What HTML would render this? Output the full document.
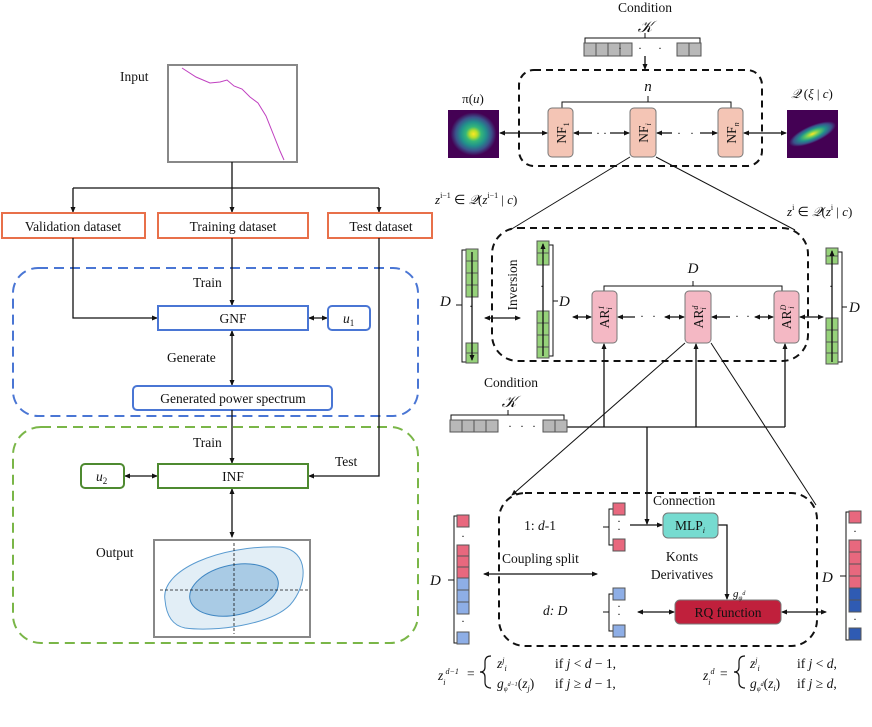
<!DOCTYPE html>
<html><head><meta charset="utf-8"><style>
html,body{margin:0;padding:0;background:#fff}
svg{display:block}
text{font-family:"Liberation Serif",serif;fill:#111}
.i{font-style:italic}
</style></head><body>
<svg width="872" height="727" viewBox="0 0 872 727" xmlns="http://www.w3.org/2000/svg">
<defs>
<marker id="a" markerWidth="6" markerHeight="6" refX="5" refY="3" orient="auto-start-reverse" markerUnits="userSpaceOnUse"><path d="M0,0.5 L6,3 L0,5.5z" fill="#111"/></marker>
<radialGradient id="v1" cx="50%" cy="50%" r="50%"><stop offset="0" stop-color="#fde725"/><stop offset=".15" stop-color="#b5de2b"/><stop offset=".3" stop-color="#35b779"/><stop offset=".5" stop-color="#21918c"/><stop offset=".7" stop-color="#3b528b"/><stop offset=".9" stop-color="#440154"/><stop offset="1" stop-color="#440154"/></radialGradient>
<radialGradient id="v2" cx="50%" cy="50%" r="50%" gradientTransform="translate(0.5 0.5) rotate(-25) scale(1 0.35) translate(-0.5 -0.5)"><stop offset="0" stop-color="#fde725"/><stop offset=".3" stop-color="#5ec962"/><stop offset=".55" stop-color="#21918c"/><stop offset=".8" stop-color="#3b528b"/><stop offset="1" stop-color="#440154"/></radialGradient>
</defs>
<g stroke="#111" stroke-width="1.3" fill="none">
<!-- LEFT -->
<rect x="168" y="65" width="129" height="97" stroke="#888" stroke-width="2"/>
<polyline points="182,68 196,77 210,83 220,82 227,80 234,86 242,89 250,97 258,103 266,116 274,136 280,151 284,160" stroke="#c040c0" stroke-width="1"/>
<line x1="232" y1="162" x2="232" y2="188"/>
<line x1="73" y1="188" x2="379" y2="188"/>
<line x1="73" y1="188" x2="73" y2="212" marker-end="url(#a)"/>
<line x1="232" y1="188" x2="232" y2="212" marker-end="url(#a)"/>
<line x1="379" y1="188" x2="379" y2="212" marker-end="url(#a)"/>
<g stroke="#e8704a" stroke-width="2">
<rect x="2" y="213" width="143" height="25"/>
<rect x="158" y="213" width="150" height="25"/>
<rect x="328" y="213" width="104" height="25"/>
</g>
<rect x="13" y="268" width="405" height="148" rx="25" stroke="#4a76d4" stroke-width="2" stroke-dasharray="10,6"/>
<polyline points="73,238 73,318 157,318" marker-end="url(#a)"/>
<line x1="232" y1="238" x2="232" y2="305" marker-end="url(#a)"/>
<line x1="232" y1="331" x2="232" y2="385" marker-start="url(#a)" marker-end="url(#a)"/>
<line x1="309" y1="318" x2="327" y2="318" marker-start="url(#a)" marker-end="url(#a)"/>
<g stroke="#4a76d4" stroke-width="2">
<rect x="158" y="306" width="150" height="24"/>
<rect x="328" y="306" width="42" height="24" rx="4"/>
<rect x="133" y="386" width="199" height="24" rx="4"/>
</g>
<rect x="13" y="427" width="405" height="216" rx="28" stroke="#7ab648" stroke-width="2" stroke-dasharray="10,6"/>
<line x1="232" y1="410" x2="232" y2="463" marker-end="url(#a)"/>
<polyline points="379,238 379,476 309,476" marker-end="url(#a)"/>
<line x1="125" y1="476" x2="157" y2="476" marker-start="url(#a)" marker-end="url(#a)"/>
<line x1="232" y1="489" x2="232" y2="537" marker-start="url(#a)" marker-end="url(#a)"/>
<g stroke="#4e8a30" stroke-width="2">
<rect x="158" y="464" width="150" height="24"/>
<rect x="81" y="464" width="43" height="24" rx="4"/>
</g>
<rect x="154" y="540" width="156" height="97" stroke="#888" stroke-width="2"/>
<path d="M165,600 C160,570 220,545 280,547 C310,550 308,585 290,605 C270,625 215,632 185,628 C170,625 166,612 165,600z" fill="#e2eef6" stroke="#5a9bd0" stroke-width="1"/>
<ellipse cx="234" cy="590" rx="45" ry="25" transform="rotate(-12 234 590)" fill="#a9cbe5" stroke="#3f86c2" stroke-width="1"/>
<line x1="160" y1="590" x2="308" y2="590" stroke-width="0.8" stroke-dasharray="3,2"/>
<line x1="234" y1="543" x2="234" y2="634" stroke-width="0.8" stroke-dasharray="3,2"/>

<!-- RIGHT TOP -->
<path d="M585,43 V38 H700 V43 M645,38 V33" stroke-width="1"/>
<line x1="645" y1="56" x2="645" y2="69" marker-end="url(#a)"/>
<rect x="519" y="70" width="243" height="96" rx="15" stroke-width="2" stroke-dasharray="7,5"/>
<path d="M562,108 V102 H731 V108 M648,102 V96" stroke-width="1"/>
<line x1="500" y1="133" x2="547" y2="133" marker-start="url(#a)" marker-end="url(#a)"/>
<line x1="574" y1="133" x2="592" y2="133" marker-start="url(#a)"/>
<line x1="610" y1="133" x2="629" y2="133" marker-end="url(#a)"/>
<line x1="657" y1="133" x2="672" y2="133" marker-start="url(#a)"/>
<line x1="700" y1="133" x2="717" y2="133" marker-end="url(#a)"/>
<line x1="744" y1="133" x2="786" y2="133" marker-start="url(#a)" marker-end="url(#a)"/>
<line x1="630" y1="157" x2="510" y2="230" stroke-width="1"/>
<line x1="656" y1="157" x2="795" y2="230" stroke-width="1"/>

<rect x="492" y="228" width="316" height="133" rx="26" stroke-width="2" stroke-dasharray="7,5"/>
<path d="M604,291 V286 H782 V291 M693,286 V281" stroke-width="1"/>
<line x1="485" y1="318" x2="520" y2="318" marker-start="url(#a)" marker-end="url(#a)"/>
<line x1="573" y1="317" x2="591" y2="317" marker-start="url(#a)" marker-end="url(#a)"/>
<line x1="618" y1="317" x2="635" y2="317" marker-start="url(#a)"/>
<line x1="665" y1="317" x2="684" y2="317" marker-start="url(#a)" marker-end="url(#a)"/>
<line x1="712" y1="317" x2="730" y2="317" marker-start="url(#a)"/>
<line x1="755" y1="317" x2="773" y2="317" marker-start="url(#a)" marker-end="url(#a)"/>
<line x1="800" y1="317" x2="823" y2="317" marker-start="url(#a)" marker-end="url(#a)"/>
<path d="M467,250 H462 V362 H467 M462,305 H456" stroke-width="1"/>
<path d="M549,245 H553 V356 H549 M553,301 H558" stroke-width="1"/>
<path d="M838,252 H842 V362 H838 M842,307 H847" stroke-width="1"/>
<path d="M451,420 V415 H564 V420 M508,415 V410" stroke-width="1"/>
<line x1="566" y1="427" x2="785" y2="427"/>
<line x1="604" y1="427" x2="604" y2="344" marker-end="url(#a)"/>
<line x1="696" y1="427" x2="696" y2="344" marker-end="url(#a)"/>
<line x1="785" y1="427" x2="785" y2="344" marker-end="url(#a)"/>
<line x1="647" y1="427" x2="647" y2="524" marker-end="url(#a)"/>
<line x1="685" y1="343" x2="512" y2="495" stroke-width="1" marker-end="url(#a)"/>
<line x1="711" y1="343" x2="816" y2="505" stroke-width="1"/>
<rect x="499" y="493" width="318" height="153" rx="26" stroke-width="2" stroke-dasharray="7,5"/>
<path d="M613,509 H609 V545 H613 M609,527 H603" stroke-width="1"/>
<path d="M613,594 H609 V631 H613 M609,612 H603" stroke-width="1"/>
<line x1="630" y1="525" x2="662" y2="525" marker-end="url(#a)"/>
<polyline points="718,525 727,525 727,599" marker-end="url(#a)"/>
<line x1="638" y1="612" x2="674" y2="612" marker-start="url(#a)" marker-end="url(#a)"/>
<line x1="782" y1="612" x2="826" y2="612" marker-start="url(#a)" marker-end="url(#a)"/>
<line x1="484" y1="574" x2="597" y2="574" marker-start="url(#a)" marker-end="url(#a)"/>
<path d="M457,516 H454 V643 H457 M454,580 H448" stroke-width="1"/>
<path d="M849,512 H846 V640 H849 M846,576 H840" stroke-width="1"/>
<!-- braces -->
<path d="M491,656 Q485,656 485,662 L485,667 Q485,672 480,672 Q485,672 485,677 L485,682 Q485,688 491,688" stroke-width="1.2"/>
<path d="M745,656 Q739,656 739,662 L739,667 Q739,672 734,672 Q739,672 739,677 L739,682 Q739,688 745,688" stroke-width="1.2"/>
</g>

<g stroke="#555" stroke-width="1">
<g fill="#b8b8b8">
<rect x="584" y="43" width="12" height="13"/><rect x="596" y="43" width="12" height="13"/><rect x="608" y="43" width="12" height="13"/><rect x="620" y="43" width="12" height="13"/>
<rect x="677" y="43" width="12" height="13"/><rect x="689" y="43" width="12" height="13"/>
<rect x="450" y="420" width="12" height="12"/><rect x="462" y="420" width="12" height="12"/><rect x="474" y="420" width="12" height="12"/><rect x="486" y="420" width="12" height="12"/>
<rect x="543" y="420" width="12" height="12"/><rect x="555" y="420" width="12" height="12"/>
</g>
<g fill="#96d27a">
<rect x="466" y="249" width="12" height="12"/><rect x="466" y="261" width="12" height="12"/><rect x="466" y="273" width="12" height="12"/><rect x="466" y="285" width="12" height="12"/>
<rect x="466" y="343" width="12" height="10"/><rect x="466" y="353" width="12" height="10"/>
<rect x="537" y="241" width="12" height="12"/><rect x="537" y="253" width="12" height="12"/>
<rect x="537" y="311" width="12" height="12"/><rect x="537" y="323" width="12" height="12"/><rect x="537" y="335" width="12" height="12"/><rect x="537" y="347" width="12" height="11"/>
<rect x="826" y="248" width="12" height="8"/><rect x="826" y="256" width="12" height="8"/>
<rect x="826" y="318" width="12" height="12"/><rect x="826" y="330" width="12" height="12"/><rect x="826" y="342" width="12" height="11"/><rect x="826" y="353" width="12" height="11"/>
</g>
<g fill="#e8687e">
<rect x="613" y="503" width="12" height="12"/><rect x="613" y="539" width="12" height="12"/>
<rect x="457" y="515" width="12" height="12"/><rect x="457" y="545" width="12" height="11"/><rect x="457" y="556" width="12" height="11"/><rect x="457" y="567" width="12" height="11"/>
<rect x="849" y="511" width="12" height="12"/><rect x="849" y="540" width="12" height="12"/><rect x="849" y="552" width="12" height="12"/><rect x="849" y="564" width="12" height="12"/><rect x="849" y="576" width="12" height="12"/>
</g>
<g fill="#8eaee6">
<rect x="613" y="588" width="12" height="12"/><rect x="613" y="625" width="12" height="12"/>
<rect x="457" y="578" width="12" height="12"/><rect x="457" y="590" width="12" height="12"/><rect x="457" y="602" width="12" height="12"/><rect x="457" y="632" width="12" height="12"/>
</g>
<g fill="#2f5bb3">
<rect x="849" y="588" width="12" height="12"/><rect x="849" y="600" width="12" height="12"/><rect x="849" y="628" width="12" height="12"/>
</g>
</g>
<g stroke="#111" stroke-width="1.3">
<line x1="472" y1="252" x2="472" y2="360" marker-end="url(#a)"/>
<line x1="543" y1="356" x2="543" y2="244" marker-end="url(#a)"/>
<line x1="832" y1="362" x2="832" y2="251" marker-end="url(#a)"/>
</g>
<g stroke="#777" stroke-width="1">
<rect x="548" y="108" width="25" height="49" rx="4" fill="#f4c5b5"/>
<rect x="630" y="108" width="26" height="49" rx="4" fill="#f4c5b5"/>
<rect x="718" y="108" width="25" height="49" rx="4" fill="#f4c5b5"/>
<rect x="592" y="291" width="25" height="52" rx="4" fill="#f4b8c4"/>
<rect x="685" y="291" width="26" height="52" rx="4" fill="#f4b8c4"/>
<rect x="774" y="291" width="25" height="52" rx="4" fill="#f4b8c4"/>
<rect x="663" y="513" width="55" height="25" rx="5" fill="#76dbd0"/>
<rect x="675" y="600" width="106" height="24" rx="5" fill="#c0203c"/>
</g>
<rect x="448" y="110" width="51" height="48" fill="url(#v1)"/>
<rect x="787" y="110" width="51" height="48" fill="url(#v2)"/>

<g font-size="12">
<text x="618" y="52">·</text><text x="638" y="52">·</text><text x="658" y="52">·</text>
<text x="596" y="137">·</text><text x="603" y="137">·</text><text x="677" y="137">·</text><text x="690" y="137">·</text>
<text x="640" y="320">·</text><text x="652" y="320">·</text><text x="735" y="320">·</text><text x="746" y="320">·</text>
<text x="508" y="430">·</text><text x="520" y="430">·</text><text x="532" y="430">·</text>
<text x="469" y="310">·</text><text x="540" y="290">·</text><text x="829" y="290">·</text>
<text x="617" y="525">·</text><text x="617" y="533">·</text><text x="617" y="610">·</text><text x="617" y="618">·</text>
<text x="461" y="540">·</text><text x="461" y="625">·</text><text x="853" y="535">·</text><text x="853" y="623">·</text>
</g>

<g font-size="13.5">
<text x="120" y="81">Input</text>
<text x="73" y="231" text-anchor="middle">Validation dataset</text>
<text x="233" y="231" text-anchor="middle">Training dataset</text>
<text x="381" y="231" text-anchor="middle">Test dataset</text>
<text x="193" y="287">Train</text>
<text x="233" y="323" text-anchor="middle">GNF</text>
<text x="343" y="323" class="i">u<tspan font-size="9" dy="3" font-style="normal">1</tspan></text>
<text x="167" y="362">Generate</text>
<text x="233" y="403" text-anchor="middle">Generated power spectrum</text>
<text x="193" y="447">Train</text>
<text x="335" y="466">Test</text>
<text x="233" y="481" text-anchor="middle">INF</text>
<text x="96" y="481" class="i">u<tspan font-size="9" dy="3" font-style="normal">2</tspan></text>
<text x="96" y="557">Output</text>

<text x="645" y="12" text-anchor="middle">Condition</text>
<text x="645" y="32" text-anchor="middle" class="i" font-size="16">𝒦</text>
<text x="648" y="91" text-anchor="middle" class="i" font-size="15">n</text>
<text x="473" y="103" text-anchor="middle" font-size="13">π(<tspan class="i">u</tspan>)</text>
<text x="812" y="98" text-anchor="middle" font-size="13"><tspan class="i">𝒬</tspan> (<tspan class="i">ξ</tspan> | <tspan class="i">c</tspan>)</text>
<text transform="translate(566,133) rotate(-90)" text-anchor="middle">NF<tspan font-size="8" dy="3">1</tspan></text>
<text transform="translate(648,133) rotate(-90)" text-anchor="middle">NF<tspan font-size="8" dy="3" class="i">i</tspan></text>
<text transform="translate(736,133) rotate(-90)" text-anchor="middle">NF<tspan font-size="8" dy="3" class="i">n</tspan></text>
<text x="435" y="204" font-size="13"><tspan class="i">z</tspan><tspan font-size="8" dy="-6">i−1</tspan><tspan dy="6"> ∈ </tspan><tspan class="i">𝒬</tspan>(<tspan class="i">z</tspan><tspan font-size="8" dy="-6">i−1</tspan><tspan dy="6"> | </tspan><tspan class="i">c</tspan>)</text>
<text x="787" y="216" font-size="13"><tspan class="i">z</tspan><tspan font-size="8" dy="-6">i</tspan><tspan dy="6"> ∈ </tspan><tspan class="i">𝒬</tspan>(<tspan class="i">z</tspan><tspan font-size="8" dy="-6">i</tspan><tspan dy="6"> | </tspan><tspan class="i">c</tspan>)</text>
<text x="693" y="273" text-anchor="middle" class="i" font-size="15">D</text>
<text x="440" y="306" class="i" font-size="15">D</text>
<text x="559" y="306" class="i" font-size="15">D</text>
<text x="849" y="312" class="i" font-size="15">D</text>
<text transform="translate(517,285) rotate(-90)" text-anchor="middle">Inversion</text>
<text transform="translate(609,317) rotate(-90)" text-anchor="middle">AR<tspan font-size="8" dy="-5" class="i">1</tspan><tspan font-size="8" dy="8" dx="-4" class="i">i</tspan></text>
<text transform="translate(703,317) rotate(-90)" text-anchor="middle">AR<tspan font-size="8" dy="-5" class="i">d</tspan><tspan font-size="8" dy="8" dx="-4" class="i">i</tspan></text>
<text transform="translate(791,317) rotate(-90)" text-anchor="middle">AR<tspan font-size="8" dy="-5" class="i">D</tspan><tspan font-size="8" dy="8" dx="-4" class="i">i</tspan></text>
<text x="511" y="387" text-anchor="middle">Condition</text>
<text x="509" y="407" text-anchor="middle" class="i" font-size="16">𝒦</text>
<text x="653" y="505">Connection</text>
<text x="556" y="530" text-anchor="end">1: <tspan class="i">d</tspan>-1</text>
<text x="690" y="530" text-anchor="middle">MLP<tspan font-size="8" dy="3" class="i">i</tspan></text>
<text x="682" y="561" text-anchor="middle">Konts</text>
<text x="682" y="579" text-anchor="middle">Derivatives</text>
<text x="733" y="597" font-size="11" class="i">g<tspan font-size="7" dy="3">φ</tspan><tspan font-size="6" dy="-5">d</tspan></text>
<text x="543" y="615" class="i">d: D</text>
<text x="728" y="617" text-anchor="middle">RQ function</text>
<text x="502" y="563">Coupling split</text>
<text x="430" y="585" class="i" font-size="15">D</text>
<text x="822" y="582" class="i" font-size="15">D</text>
</g>
<g font-size="13.5">
<text x="438" y="680" class="i">z<tspan font-size="8" dy="5">i</tspan><tspan font-size="8" dy="-11">d−1</tspan></text>
<text x="467" y="678">=</text>
<text x="497" y="668" class="i">z<tspan font-size="8" dy="-5">j</tspan><tspan font-size="8" dy="8">i</tspan></text>
<text x="555" y="668">if <tspan class="i">j</tspan> &lt; <tspan class="i">d</tspan> − 1,</text>
<text x="497" y="688" class="i">g<tspan font-size="7" dy="3">φ</tspan><tspan font-size="6" dy="-5">d−1</tspan><tspan font-style="normal" dy="2">(</tspan>z<tspan font-size="8" dy="3">j</tspan><tspan font-style="normal" dy="-3">)</tspan></text>
<text x="555" y="688">if <tspan class="i">j</tspan> ≥ <tspan class="i">d</tspan> − 1,</text>
<text x="703" y="680" class="i">z<tspan font-size="8" dy="5">i</tspan><tspan font-size="8" dy="-11">d</tspan></text>
<text x="720" y="678">=</text>
<text x="750" y="668" class="i">z<tspan font-size="8" dy="-5">j</tspan><tspan font-size="8" dy="8">i</tspan></text>
<text x="797" y="668">if <tspan class="i">j</tspan> &lt; <tspan class="i">d</tspan>,</text>
<text x="750" y="688" class="i">g<tspan font-size="7" dy="3">φ</tspan><tspan font-size="6" dy="-5">d</tspan><tspan font-style="normal" dy="2">(</tspan>z<tspan font-size="8" dy="3">i</tspan><tspan font-style="normal" dy="-3">)</tspan></text>
<text x="797" y="688">if <tspan class="i">j</tspan> ≥ <tspan class="i">d</tspan>,</text>
</g>
</svg>
</body></html>
